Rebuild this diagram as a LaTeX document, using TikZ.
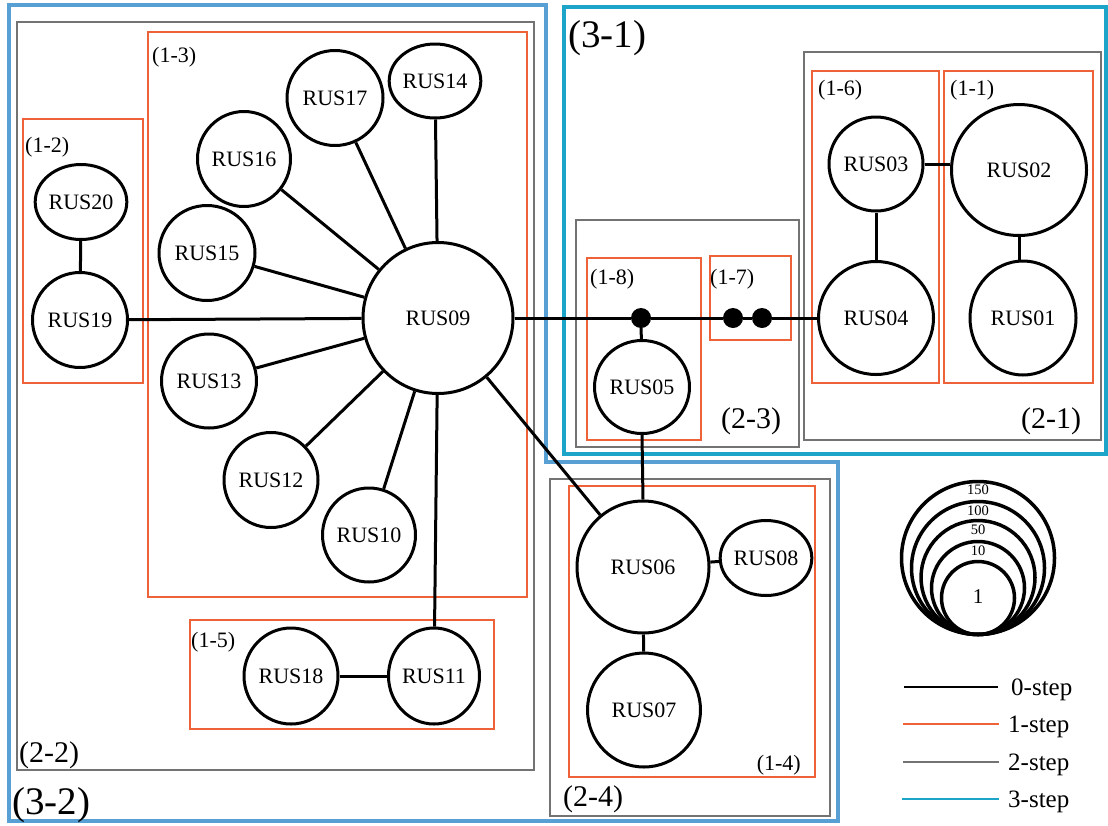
\documentclass[tikz,border=0pt]{standalone}
\usepackage{fontspec}
\setmainfont{Liberation Serif}
\usetikzlibrary{shapes.geometric}
\definecolor{obox}{RGB}{238,98,58}
\definecolor{gbox}{RGB}{115,115,115}
\definecolor{bbox}{RGB}{88,160,212}
\definecolor{cbox}{RGB}{28,165,200}
\begin{document}
\begin{tikzpicture}[x=1pt,y=-1pt,
  rus/.style={draw=black, line width=3pt, ellipse, fill=white, inner sep=0pt, font=\fontsize{22}{24}\selectfont},
  dotnode/.style={circle, fill=black, minimum size=20pt, inner sep=0pt},
  link/.style={line width=3pt},
  onebox/.style={draw=obox, line width=1.8pt},
  twobox/.style={draw=gbox, line width=1.8pt},
  threeA/.style={draw=bbox, line width=4.8pt},
  threeB/.style={draw=cbox, line width=4.8pt},
  lab1/.style={font=\fontsize{22}{24}\selectfont, inner sep=0pt},
  lab2/.style={font=\fontsize{30}{32}\selectfont, inner sep=0pt},
  lab3/.style={font=\fontsize{39}{40}\selectfont, inner sep=0pt},
  legtxt/.style={font=\fontsize{25}{26}\selectfont, inner sep=0pt, anchor=base west},
  legnum/.style={font=\fontsize{14.5}{15}\selectfont, inner sep=0pt},
  legline/.style={line width=2pt},
  ring/.style={line width=3.5pt},
]
\useasboundingbox (0,0) rectangle (1108,825);
\fill[white] (0,0) rectangle (1108,825);

% 3-step boxes
\draw[threeA] (9,5) -- (546,5) -- (546,462) -- (838,462) -- (838,821) -- (9,821) -- cycle;
\draw[threeB] (564,7) rectangle (1106,454);

% 2-step boxes
\draw[twobox] (17,22) rectangle (534,770);
\draw[twobox] (550,479) rectangle (830,816);
\draw[twobox] (576,220) rectangle (799,447);
\draw[twobox] (804,52) rectangle (1101,440);

% 1-step boxes
\draw[onebox] (148,32) rectangle (527,597);
\draw[onebox] (23,119) rectangle (143,383);
\draw[onebox] (190,620) rectangle (494,729);
\draw[onebox] (569,486) rectangle (815,777);
\draw[onebox] (587,258) rectangle (701,440);
\draw[onebox] (710,256) rectangle (791,340);
\draw[onebox] (812,71) rectangle (939,383);
\draw[onebox] (944,71) rectangle (1093,383);

% box labels
\node[lab1, anchor=west] (l13) at (152,57) {(1-3)};
\node[lab1, anchor=west] (l12) at (25,147) {(1-2)};
\node[lab1, anchor=west] (l15) at (191,642) {(1-5)};
\node[lab1, anchor=west] (l18) at (590,279) {(1-8)};
\node[lab1, anchor=west] (l17) at (710,279) {(1-7)};
\node[lab1, anchor=west] (l16) at (818,90) {(1-6)};
\node[lab1, anchor=west] (l11) at (950,90) {(1-1)};
\node[lab1, anchor=east] (l14) at (801,765) {(1-4)};
\node[lab2, anchor=west] (l22) at (19,755) {(2-2)};
\node[lab2] (l23) at (751,421) {(2-3)};
\node[lab2] (l21) at (1051,421) {(2-1)};
\node[lab2, anchor=west] (l24) at (563,799) {(2-4)};
\node[lab3, anchor=west] (l32) at (12,805) {(3-2)};
\node[lab3, anchor=west] (l31) at (568,38) {(3-1)};

% nodes
\node[rus, minimum width=150, minimum height=151] (R09) at (438,318) {RUS09};
\node[rus, minimum width=75, minimum height=74] (R14) at (435,81) {RUS14};
\node[rus, minimum width=96, minimum height=95] (R17) at (335,98) {RUS17};
\node[rus, minimum width=93, minimum height=95] (R16) at (244,159) {RUS16};
\node[rus, minimum width=96, minimum height=95] (R15) at (207,253) {RUS15};
\node[rus, minimum width=95, minimum height=94] (R13) at (209,381) {RUS13};
\node[rus, minimum width=94, minimum height=95] (R12) at (271,480) {RUS12};
\node[rus, minimum width=93, minimum height=94] (R10) at (369,535) {RUS10};
\node[rus, minimum width=91, minimum height=96] (R11) at (434,676) {RUS11};
\node[rus, minimum width=94, minimum height=96] (R18) at (291,676) {RUS18};
\node[rus, minimum width=76, minimum height=75] (R20) at (81,202) {RUS20};
\node[rus, minimum width=95, minimum height=95] (R19) at (80,320) {RUS19};
\node[rus, minimum width=95, minimum height=93] (R05) at (642,387) {RUS05};
\node[rus, minimum width=132, minimum height=132] (R06) at (643,567) {RUS06};
\node[rus, minimum width=74, minimum height=75] (R08) at (766,558) {RUS08};
\node[rus, minimum width=113, minimum height=114] (R07) at (644,710) {RUS07};
\node[rus, minimum width=115, minimum height=113] (R04) at (876,318) {RUS04};
\node[rus, minimum width=94, minimum height=94] (R03) at (876,164) {RUS03};
\node[rus, minimum width=135, minimum height=131] (R02) at (1019,170) {RUS02};
\node[rus, minimum width=106, minimum height=114] (R01) at (1023,318) {RUS01};

\node[dotnode] (d1) at (641,318) {};
\node[dotnode] (d2) at (733,318) {};
\node[dotnode] (d3) at (762,318) {};

% links
\foreach \n in {R14,R17,R16,R15,R13,R12,R10,R11,R19,R06}
  \draw[link] (R09) -- (\n);
\draw[link] (R09) -- (d1) -- (d2) -- (d3) -- (R04);
\draw[link] (d1) -- (R05);
\draw[link] (R05.south) -- (R06.north);
\draw[link] (R20) -- (R19);
\draw[link] (R18) -- (R11);
\draw[link] (R06) -- (R08);
\draw[link] (R06) -- (R07);
\draw[link] (R03.east) -- (R02.west |- R03.east);
\draw[link] (R03) -- (R04);
\draw[link] (R02.south) -- (R02.south |- R01.north);

% legend: sizes
\draw[ring] (978,558) circle[radius=76.5];
\draw[ring] (978,568) circle[radius=66.5];
\draw[ring] (978,577.5) circle[radius=57];
\draw[ring] (978,588) circle[radius=46.5];
\draw[ring] (978,598) circle[radius=36.5];
\node[legnum] (n150) at (978,490) {150};
\node[legnum] (n100) at (978,511) {100};
\node[legnum] (n50) at (978,530) {50};
\node[legnum] (n10) at (978,551) {10};
\node[font=\fontsize{21}{22}\selectfont, inner sep=0pt] (n1) at (978,597) {1};

% legend: steps
\coordinate (a0) at (904,687); \coordinate (b0) at (998,687);
\coordinate (a1) at (903,724); \coordinate (b1) at (999,724);
\coordinate (a2) at (903,762); \coordinate (b2) at (999,762);
\coordinate (a3) at (902,799); \coordinate (b3) at (999,799);
\draw[legline, black] (a0) -- (b0);
\draw[legline, obox] (a1) -- (b1);
\draw[legline, gbox] (a2) -- (b2);
\draw[legline, cbox] (a3) -- (b3);
\node[legtxt] (t0) at (1011,695) {0-step};
\node[legtxt] (t1) at (1008,732) {1-step};
\node[legtxt] (t2) at (1008,770) {2-step};
\node[legtxt] (t3) at (1008,807) {3-step};
\end{tikzpicture}
\end{document}
